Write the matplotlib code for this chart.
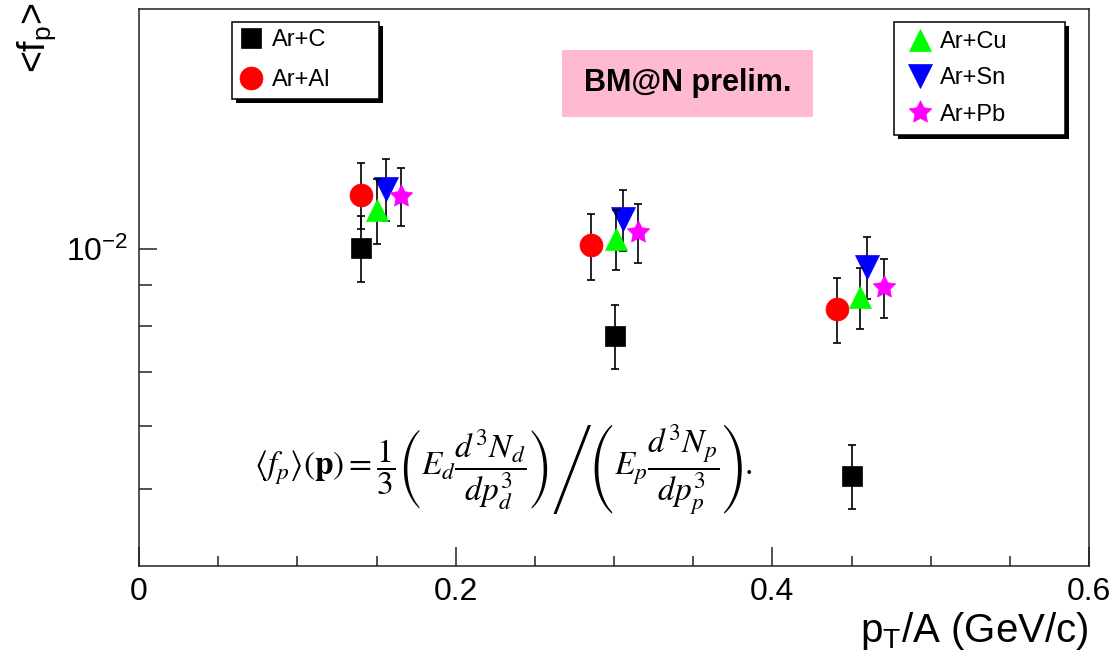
import matplotlib
matplotlib.use('Agg')
import matplotlib.pyplot as plt
from matplotlib.ticker import FixedLocator, NullFormatter, FixedFormatter
from matplotlib.patches import Rectangle
import matplotlib.patheffects as pe

plt.rcParams['font.family'] = ['Liberation Sans', 'DejaVu Sans']
plt.rcParams['mathtext.fontset'] = 'custom'
plt.rcParams['mathtext.rm'] = 'Liberation Sans'
plt.rcParams['mathtext.it'] = 'Liberation Sans:italic'
plt.rcParams['mathtext.bf'] = 'Liberation Sans:bold'

# ---------------- data ----------------
labels = ['Ar+C', 'Ar+Al', 'Ar+Cu', 'Ar+Sn', 'Ar+Pb']

x_C = [0.1404, 0.3005, 0.4500]
y_C = [0.01004, 0.00778, 0.00519]
e_C = [0.00096, 0.00072, 0.00048]

x_Al = [0.1404, 0.2853, 0.4408]
y_Al = [0.01170, 0.01010, 0.00841]
e_Al = [0.00110, 0.00095, 0.00078]

x_Cu = [0.1500, 0.3010, 0.4555]
y_Cu = [0.01120, 0.01030, 0.00870]
e_Cu = [0.00105, 0.00090, 0.00076]

x_Sn = [0.1558, 0.3057, 0.4600]
y_Sn = [0.01190, 0.01090, 0.00950]
e_Sn = [0.00105, 0.00097, 0.00085]

x_Pb = [0.1652, 0.3152, 0.4707]
y_Pb = [0.01165, 0.01050, 0.00895]
e_Pb = [0.00098, 0.00089, 0.00075]

x_major = [0.0, 0.2, 0.4, 0.6]
x_major_labels = ['0', '0.2', '0.4', '0.6']
x_minor = [0.05, 0.10, 0.15, 0.25, 0.30, 0.35, 0.45, 0.50, 0.55]
y_major = [0.01]
y_major_labels = [r'$\mathregular{10^{-2}}$']
y_minor = [0.005, 0.006, 0.007, 0.008, 0.009]

# ---------------- figure ----------------
W, H = 1114, 656
fig = plt.figure(figsize=(W / 100, H / 100), dpi=100)
L, R, T, B = 139, 1089, 9, 566
ax = fig.add_axes([L / W, 1 - B / H, (R - L) / W, (B - T) / H])

series = [
    ('Ar+C', x_C, y_C, e_C, 's', 'black', 15, 2),
    ('Ar+Al', x_Al, y_Al, e_Al, 'o', '#ff0000', 16.5, 3),
    ('Ar+Sn', x_Sn, y_Sn, e_Sn, 'v', '#0000ff', 17, 4),
    ('Ar+Cu', x_Cu, y_Cu, e_Cu, '^', '#00ff00', 15.5, 5),
    ('Ar+Pb', x_Pb, y_Pb, e_Pb, (5, 1, 0), '#ff00ff', 17, 6),
]
handles = {}
for lab, xs, ys, es, mk, col, ms, z in series:
    eb = ax.errorbar(xs, ys, yerr=es, fmt='none', ecolor='black',
                     elinewidth=1.2, capsize=2.6, capthick=1.2, zorder=z)
    ln, = ax.plot(xs, ys, ls='none', marker=mk, ms=ms, color=col,
                  mec=col, mew=0.5, zorder=z + 0.5)
    handles[lab] = ln

ax.set_xlim(0, 0.6)
ax.set_yscale('log')
ax.set_ylim(0.004, 0.02)

ax.xaxis.set_major_locator(FixedLocator(x_major))
ax.xaxis.set_major_formatter(FixedFormatter(x_major_labels))
ax.xaxis.set_minor_locator(FixedLocator(x_minor))
ax.xaxis.set_minor_formatter(NullFormatter())
ax.yaxis.set_major_locator(FixedLocator(y_major))
ax.yaxis.set_major_formatter(FixedFormatter(y_major_labels))
ax.yaxis.set_minor_locator(FixedLocator(y_minor))
ax.yaxis.set_minor_formatter(NullFormatter())

ax.tick_params(which='both', direction='in', top=False, right=False,
               width=1.1, color='#222222', labelsize=23, pad=8)
ax.tick_params(axis='x', which='major', length=13.5)
ax.tick_params(axis='x', which='minor', length=7)
ax.tick_params(axis='y', which='major', length=13)
ax.tick_params(axis='y', which='minor', length=9.5)
for s in ax.spines.values():
    s.set_linewidth(1.1)
    s.set_color('#222222')

# axis titles (ROOT style)
fig.text(1088 / W, 1 - 642 / H, r'p$_\mathregular{T}$/A (GeV/c)', ha='right',
         va='baseline', fontsize=29)
fig.text(37 / W, 1 - 3 / H, r'<f$_\mathregular{p}$>', rotation=90, ha='center',
         va='top', fontsize=27)

# legends
def style_legend(leg):
    fr = leg.get_frame()
    fr.set_edgecolor('black')
    fr.set_linewidth(1.1)
    fr.set_path_effects([pe.SimplePatchShadow(offset=(3, -3), shadow_rgbFace='black', alpha=1.0),
                         pe.Normal()])

ax_w = R - L
ax_h = B - T
lx, ltop, lw_ = 232, 21.7, 147
leg1 = ax.legend([handles['Ar+C'], handles['Ar+Al']], ['Ar+C', 'Ar+Al'],
                 loc='upper left', mode='expand',
                 bbox_to_anchor=((lx - L) / ax_w, (B - ltop) / ax_h - 0.1, lw_ / ax_w, 0.1),
                 borderaxespad=0, fontsize=17, fancybox=False, framealpha=1,
                 borderpad=0.33, labelspacing=0.74, handlelength=0.95, handletextpad=0.4,
                 numpoints=1)
style_legend(leg1)
ax.add_artist(leg1)

rx, rtop, rw_ = 894, 22.3, 171
leg2 = ax.legend([handles['Ar+Cu'], handles['Ar+Sn'], handles['Ar+Pb']],
                 ['Ar+Cu', 'Ar+Sn', 'Ar+Pb'],
                 loc='upper left', mode='expand',
                 bbox_to_anchor=((rx - L) / ax_w, (B - rtop) / ax_h - 0.1, rw_ / ax_w, 0.1),
                 borderaxespad=0, fontsize=17, fancybox=False, framealpha=1,
                 borderpad=0.38, labelspacing=0.6, handlelength=1.4, handletextpad=0.18,
                 numpoints=1)
style_legend(leg2)

# BM@N prelim. box
bx0, by0, bx1, by1 = 562, 50, 813, 117
ax.add_patch(Rectangle(((bx0 - L) / ax_w, (B - by1) / ax_h), (bx1 - bx0) / ax_w,
                       (by1 - by0) / ax_h, transform=ax.transAxes,
                       facecolor='#ffbad2', edgecolor='none', zorder=7))
ax.text(((bx0 + bx1) / 2 - L) / ax_w, (B - (by0 + by1) / 2) / ax_h, 'BM@N prelim.',
        transform=ax.transAxes, ha='center', va='center', fontsize=22,
        fontweight='bold', zorder=8)

# formula
formula = (r'$\langle f_p\rangle(\mathbf{p}) = \dfrac{1}{3}'
           r'\left(E_d\dfrac{d^3N_d}{dp_d^3}\right)'
           r'\left/\left(E_p\dfrac{d^3N_p}{dp_p^3}\right)\right..$')
ax.text((503 - L) / ax_w, (B - 470) / ax_h, formula, transform=ax.transAxes,
        ha='center', va='center', fontsize=24, math_fontfamily='stix', zorder=8)

fig.savefig('out.png', dpi=100)
